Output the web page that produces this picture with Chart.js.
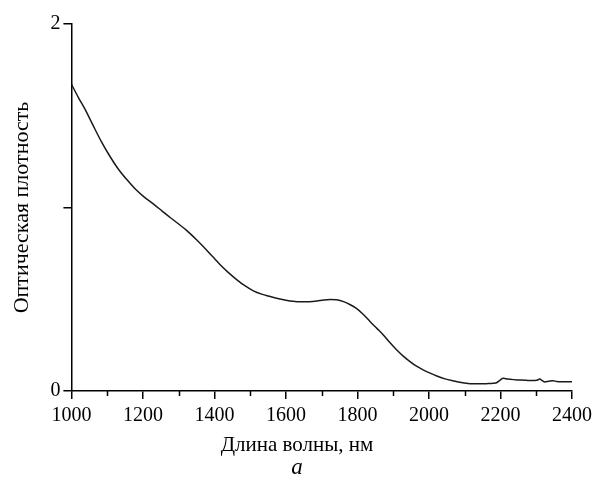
<!DOCTYPE html>
<html lang="ru">
<head>
<meta charset="UTF-8">
<title>Оптическая плотность</title>
<script src="https://cdn.jsdelivr.net/npm/chart.js"></script>
<style>
  html, body { margin: 0; padding: 0; background: #fff; }
  #wrap { width: 597px; height: 492px; }
</style>
</head>
<body>
<div id="wrap"><canvas id="myChart"></canvas></div>
<script>
// длина волны, нм
const wavelengths = [1000, 1020, 1038, 1060, 1085, 1108, 1131, 1155, 1178, 1203, 1229, 1253, 1277, 1300, 1323, 1350, 1379, 1400, 1416,
  1440, 1463, 1485, 1509, 1532, 1556, 1580, 1600, 1620, 1640, 1665, 1687, 1705, 1724, 1742, 1761, 1780, 1798, 1815, 1835,
  1855, 1873, 1890, 1910, 1928, 1947, 1965, 1985, 2005, 2022, 2045, 2068, 2090, 2115, 2140, 2161, 2180, 2189, 2198, 2208,
  2220, 2236, 2254, 2273, 2290, 2301, 2310, 2317, 2324, 2335, 2347, 2357, 2366, 2385, 2400];
// оптическая плотность
const density = [1.672, 1.598, 1.536, 1.450, 1.355, 1.278, 1.210, 1.152, 1.102, 1.058, 1.020, 0.982, 0.944, 0.910, 0.874, 0.824, 0.766, 0.722, 0.688,
  0.644, 0.606, 0.574, 0.546, 0.528, 0.515, 0.503, 0.495, 0.489, 0.486, 0.487, 0.491, 0.496, 0.499, 0.497, 0.487, 0.470, 0.449, 0.420, 0.379,
  0.340, 0.304, 0.265, 0.223, 0.190, 0.160, 0.135, 0.114, 0.096, 0.082, 0.066, 0.055, 0.046, 0.040, 0.039, 0.040, 0.042, 0.045, 0.058, 0.069,
  0.065, 0.062, 0.060, 0.058, 0.057, 0.058, 0.065, 0.056, 0.049, 0.053, 0.056, 0.052, 0.050, 0.050, 0.050];

const xMin = 1000, xMax = 2400;
const xMajorStep = 200;
const xMinorStep = 100;
const yTicks = [0, 1, 2];
const yLabels = { 0: '0', 2: '2' };

const points = wavelengths.map((w, i) => ({ x: w, y: density[i] }));
const serif = "'Liberation Serif', 'DejaVu Serif', serif";

// короткие промежуточные штрихи на оси X (1100, 1300, ...)
const minorTicks = {
  id: 'minorTicks',
  afterDraw(chart) {
    const sx = chart.scales.x;
    const c = chart.ctx;
    const y0 = chart.chartArea.bottom;
    c.save();
    c.strokeStyle = '#000';
    c.lineWidth = 1.5;
    for (let v = xMin + xMinorStep; v < xMax; v += xMajorStep) {
      const px = Math.round(sx.getPixelForValue(v)) + 0.5;
      c.beginPath();
      c.moveTo(px, y0);
      c.lineTo(px, y0 + 5);
      c.stroke();
    }
    c.restore();
  }
};

const ctx = document.getElementById('myChart').getContext('2d');
const myChart = new Chart(ctx, {
  type: 'line',
  data: {
    datasets: [{
      data: points,
      borderColor: '#1a1a1a',
      borderWidth: 1.5,
      pointRadius: 0,
      cubicInterpolationMode: 'monotone',
      fill: false
    }]
  },
  options: {
    responsive: true,
    maintainAspectRatio: false,
    animation: false,
    layout: { padding: { left: 2, right: 5, top: 24, bottom: 13 } },
    plugins: {
      legend: { display: false },
      tooltip: { enabled: false },
      subtitle: {
        display: true,
        position: 'bottom',
        text: 'Длина волны, нм',
        color: '#000',
        font: { family: serif, size: 21, weight: 'normal', lineHeight: 1 },
        padding: { top: 2, bottom: 0 }
      },
      title: {
        display: true,
        position: 'bottom',
        text: 'а',
        color: '#000',
        font: { family: serif, size: 23, style: 'italic', weight: 'normal', lineHeight: 1 },
        padding: { top: 0, bottom: 0 }
      }
    },
    scales: {
      x: {
        type: 'linear',
        min: xMin,
        max: xMax,
        border: { color: '#000', width: 1.5 },
        grid: { drawOnChartArea: false, color: '#000', tickLength: 8, lineWidth: 1.5 },
        ticks: {
          stepSize: xMajorStep,
          autoSkip: false,
          maxRotation: 0,
          color: '#000',
          padding: 5,
          font: { family: serif, size: 20 },
          callback: v => String(v)
        }
      },
      y: {
        min: 0,
        max: 2,
        afterBuildTicks: axis => { axis.ticks = yTicks.map(v => ({ value: v })); },
        border: { color: '#000', width: 1.5 },
        grid: { drawOnChartArea: false, color: '#000', tickLength: 8, lineWidth: 1.5 },
        ticks: {
          color: '#000',
          padding: 3,
          font: { family: serif, size: 20 },
          callback: v => yLabels[v] || ''
        },
        title: {
          display: true,
          text: 'Оптическая плотность',
          color: '#000',
          font: { family: serif, size: 22, lineHeight: 1.2 },
          padding: { top: 7, bottom: 12 }
        }
      }
    }
  },
  plugins: [minorTicks]
});
</script>
</body>
</html>
